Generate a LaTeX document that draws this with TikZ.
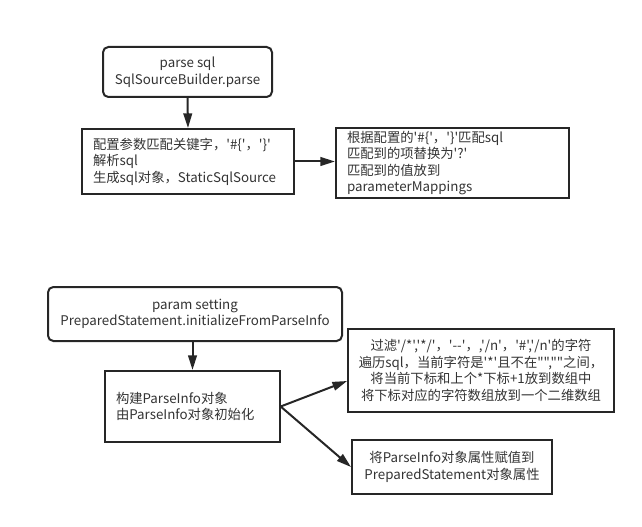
\documentclass[tikz,border=0pt]{standalone}
\usepackage{fontspec}
\setmainfont{Noto Sans CJK SC}[Ligatures=TeXOff]
\usetikzlibrary{arrows.meta,calc}
\definecolor{edge}{HTML}{262626}
\definecolor{txt}{HTML}{333333}
\tikzset{
  box/.style={draw=edge, line width=1.5pt, rectangle, text=txt, font=\fontsize{10pt}{12.4pt}\selectfont, inner xsep=8pt, inner ysep=0pt},
  rbox/.style={box, rounded corners=4pt},
  conn/.style={draw=edge, line width=1.5pt, -{Triangle[length=11pt,width=6.5pt]}}
}
\begin{document}
\begin{tikzpicture}[x=0.75pt,y=-0.75pt]
\useasboundingbox (0,0) rectangle (642,527);
\node[rbox, minimum width=169*0.75pt, minimum height=50*0.75pt, align=center] (b1) at (187.5,72) {parse sql\\SqlSourceBuilder.parse};
\node[box, minimum width=210*0.75pt, minimum height=65*0.75pt, text width=190*0.75pt, align=left] (b2) at (188,161.5) {配置参数匹配关键字，'\#\{'，'\}'\\解析sql\\生成sql对象，StaticSqlSource};
\node[box, minimum width=233*0.75pt, minimum height=70*0.75pt, text width=211*0.75pt, align=left] (b3) at (452.5,163) {根据配置的'\#\{'，'\}'匹配sql\\匹配到的项替换为'?'\\匹配到的值放到\\parameterMappings};
\node[rbox, minimum width=294*0.75pt, minimum height=54*0.75pt, align=center] (b4) at (195,314) {param setting\\PreparedStatement.initializeFromParseInfo};
\node[box, minimum width=173*0.75pt, minimum height=71*0.75pt, text width=153*0.75pt, align=left] (b5) at (192.5,406.5) {构建ParseInfo对象\\由ParseInfo对象初始化};
\node[box, minimum width=258*0.75pt, minimum height=83*0.75pt, align=center] (b6) at (481,370.5) {过滤'/*','*/'，'--'，,'/n'，'\#','/n'的字符\\遍历sql，当前字符是'*'且不在"",""之间，\\将当前下标和上个*下标+1放到数组中\\将下标对应的字符数组放到一个二维数组};
\node[box, minimum width=200*0.75pt, minimum height=54*0.75pt, align=center] (b7) at (452,467) {将ParseInfo对象属性赋值到\\PreparedStatement对象属性};
\coordinate (b6in) at ($(b6.west)+(0,10.5)$);
\draw[conn] (b1.south) -- (b2.north);
\draw[conn] (b2.east) -- (b3.west |- b2.east);
\draw[conn] (b4.south -| b5.north) -- (b5.north);
\draw[conn] (b5.east) -- (b6in);
\draw[conn] (b5.east) -- (b7.west);
\end{tikzpicture}
\end{document}
